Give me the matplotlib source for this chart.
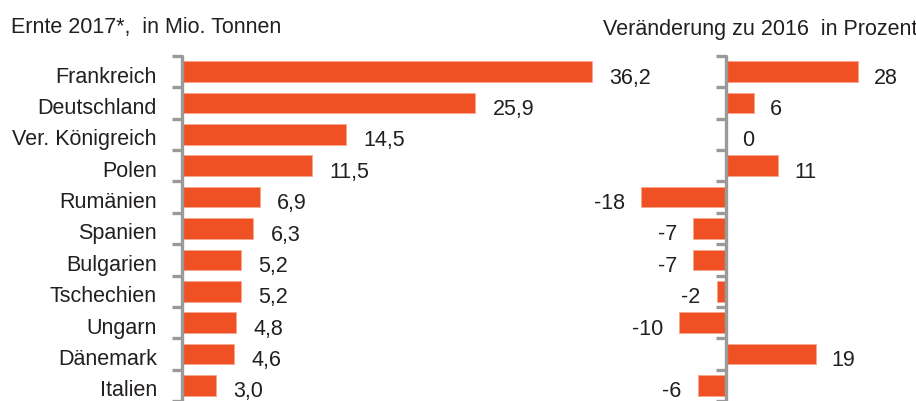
import matplotlib
matplotlib.use("Agg")
import matplotlib.pyplot as plt

plt.rcParams['font.family'] = ['Liberation Sans', 'DejaVu Sans']

countries = ["Frankreich", "Deutschland", "Ver. Königreich", "Polen", "Rumänien",
             "Spanien", "Bulgarien", "Tschechien", "Ungarn", "Dänemark", "Italien"]
harvest = [36.2, 25.9, 14.5, 11.5, 6.9, 6.3, 5.2, 5.2, 4.8, 4.6, 3.0]
harvest_labels = ["36,2", "25,9", "14,5", "11,5", "6,9", "6,3", "5,2", "5,2", "4,8", "4,6", "3,0"]
change = [28, 6, 0, 11, -18, -7, -7, -2, -10, 19, -6]

W, H = 916, 401
BAR = "#EF5125"
GRAY = "#9A9A9A"
TXT = "#231F20"
FS = 15.5
BASE_OFF = -11  # baseline offset (pixels) from row centre

fig = plt.figure(figsize=(W / 100, H / 100), dpi=100)

pitch = 31.8
top_px = 56
n = len(countries)
y_bottom = (H - top_px) / pitch - 0.5
ax_h = (H - top_px) / H

# left panel
lscale = 11.33
lx0 = 182
lxmax = 38
axL = fig.add_axes([lx0 / W, 0, lxmax * lscale / W, ax_h])
# right panel
rscale = 4.72
rx0 = 726
rxmin, rxmax = -22, 38
axR = fig.add_axes([(rx0 + rxmin * rscale) / W, 0, (rxmax - rxmin) * rscale / W, ax_h])

ys = list(range(n))
bh = 21 / pitch

for ax in (axL, axR):
    ax.set_ylim(y_bottom, -0.5)
    ax.patch.set_visible(False)
    for s in ("top", "right", "bottom"):
        ax.spines[s].set_visible(False)
    ax.spines["left"].set_color(GRAY)
    ax.spines["left"].set_linewidth(2.4)
    ax.spines["left"].set_capstyle("round")
    ax.set_xticks([])
    ax.set_yticks(ys, [""] * n)
    ax.tick_params(axis="y", which="major", length=0)
    ax.set_yticks([i - 0.5 for i in range(n + 1)], minor=True)
    ax.tick_params(axis="y", which="minor", length=7.5, width=2.4, color=GRAY, direction="out")

axL.set_xlim(0, lxmax)
axL.barh(ys, harvest, height=bh, color=BAR, edgecolor="#F7A88E", linewidth=0.6)
for y, name in zip(ys, countries):
    axL.annotate(name, (0, y), xycoords=("axes fraction", "data"), xytext=(-25, BASE_OFF),
                 textcoords="offset pixels", ha="right", va="baseline", fontsize=FS,
                 color=TXT, annotation_clip=False)
for y, v, lab in zip(ys, harvest, harvest_labels):
    axL.annotate(lab, (v, y), xytext=(17, BASE_OFF - 1), textcoords="offset pixels",
                 ha="left", va="baseline", fontsize=FS, color=TXT, annotation_clip=False)

axR.set_xlim(rxmin, rxmax)
axR.spines["left"].set_position(("data", 0))
axR.barh(ys, change, height=bh, color=BAR, edgecolor="#F7A88E", linewidth=0.6)
for y, v in zip(ys, change):
    if v >= 0:
        axR.annotate(str(v), (v, y), xytext=(16, BASE_OFF - 1), textcoords="offset pixels",
                     ha="left", va="baseline", fontsize=FS, color=TXT, annotation_clip=False)
    else:
        axR.annotate(str(v), (v, y), xytext=(-16, BASE_OFF - 1), textcoords="offset pixels",
                     ha="right", va="baseline", fontsize=FS, color=TXT, annotation_clip=False)

fig.text(11 / W, 1 - 33 / H, "Ernte 2017*,  in Mio. Tonnen", ha="left", va="baseline",
         fontsize=FS, color=TXT)
fig.text(603 / W, 1 - 35 / H, "Veränderung zu 2016  in Prozent", ha="left", va="baseline",
         fontsize=FS, color=TXT)

fig.savefig("out.png", dpi=100)
